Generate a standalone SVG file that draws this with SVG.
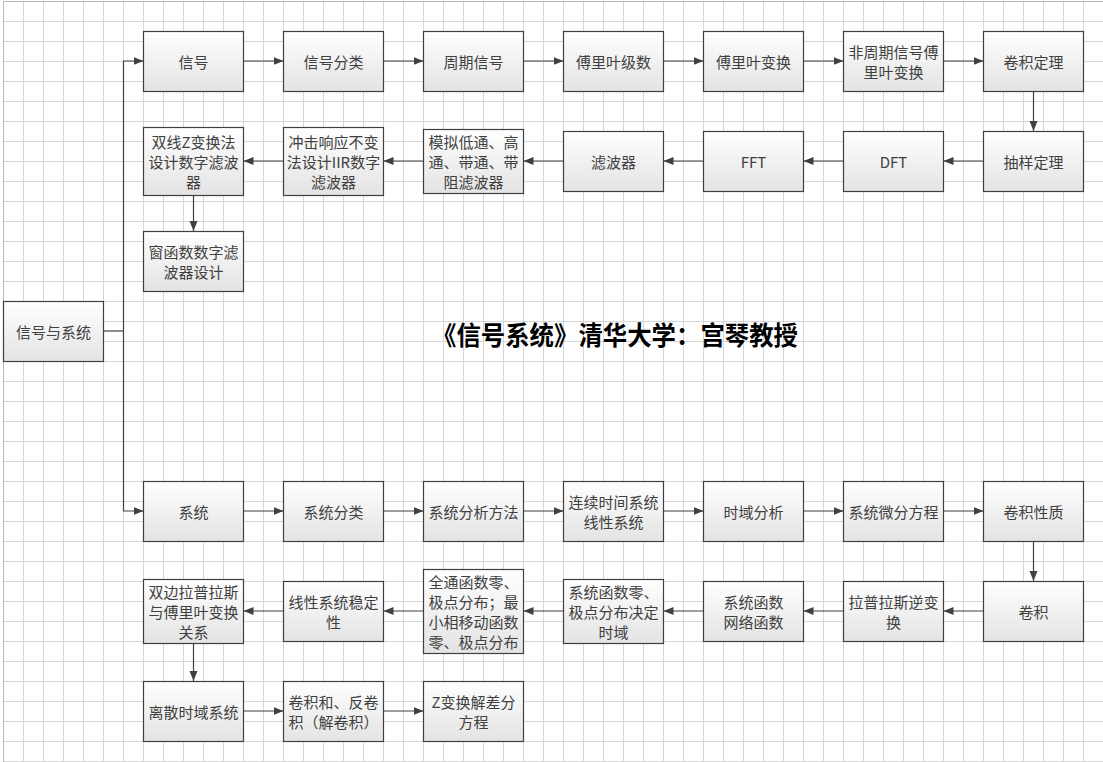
<svg xmlns="http://www.w3.org/2000/svg" width="1103" height="762" viewBox="0 0 1103 762">
<defs>
<pattern id="grid" patternUnits="userSpaceOnUse" x="3" y="1" width="20" height="20">
<path d="M0.5 0 V20 M0 0.5 H20" stroke="#d6d6d6" stroke-width="1" fill="none"/>
</pattern>
<linearGradient id="boxg" x1="0" y1="0" x2="0" y2="1">
<stop offset="0" stop-color="#ffffff"/>
<stop offset="1" stop-color="#e3e3e3"/>
</linearGradient>
<marker id="arr" markerUnits="userSpaceOnUse" markerWidth="11" markerHeight="9" refX="10" refY="4.5" orient="auto">
<path d="M0,0.5 L10,4.5 L0,8.5 z" fill="#404040"/>
</marker>
</defs>
<style>
.box{fill:url(#boxg);stroke:#404040;stroke-width:1.2}
.t{font-family:"Noto Sans CJK SC","Microsoft YaHei",sans-serif;font-size:15px;fill:#404040;text-anchor:middle;dominant-baseline:central}
.c{fill:none;stroke:#404040;stroke-width:1.2}
.ca{fill:none;stroke:#404040;stroke-width:1.2;marker-end:url(#arr)}
</style>
<rect x="0" y="0" width="1103" height="762" fill="#ffffff"/>
<rect x="3" y="1" width="1100" height="761" fill="url(#grid)"/>
<path d="M3.5 1 V762 M3 1.5 H1103" stroke="#b8b8b8" stroke-width="1" fill="none"/>

<text x="615" y="333" font-family="'Noto Sans CJK SC',sans-serif" font-size="26" font-weight="bold" fill="#000" text-anchor="middle" dominant-baseline="central" textLength="366" lengthAdjust="spacingAndGlyphs">《信号系统》清华大学：宫琴教授</text>

<g id="connectors">
<path class="c" d="M103.5 331 H123.5"/>
<path class="ca" d="M123.5 331 V61 H143.5"/>
<path class="ca" d="M123.5 331 V511 H143.5"/>
<path class="ca" d="M243.5 61 H283.5"/>
<path class="ca" d="M383.5 61 H423.5"/>
<path class="ca" d="M523.5 61 H563.5"/>
<path class="ca" d="M663.5 61 H703.5"/>
<path class="ca" d="M803.5 61 H843.5"/>
<path class="ca" d="M943.5 61 H983.5"/>
<path class="ca" d="M1033.5 91 V131"/>
<path class="ca" d="M983.5 161 H943.5"/>
<path class="ca" d="M843.5 161 H803.5"/>
<path class="ca" d="M703.5 161 H663.5"/>
<path class="ca" d="M563.5 161 H523.5"/>
<path class="ca" d="M423.5 161 H383.5"/>
<path class="ca" d="M283.5 161 H243.5"/>
<path class="ca" d="M193.5 195 V231"/>
<path class="ca" d="M243.5 511 H283.5"/>
<path class="ca" d="M383.5 511 H423.5"/>
<path class="ca" d="M523.5 511 H563.5"/>
<path class="ca" d="M663.5 511 H703.5"/>
<path class="ca" d="M803.5 511 H843.5"/>
<path class="ca" d="M943.5 511 H983.5"/>
<path class="ca" d="M1033.5 541 V581"/>
<path class="ca" d="M983.5 611 H943.5"/>
<path class="ca" d="M843.5 611 H803.5"/>
<path class="ca" d="M703.5 611 H663.5"/>
<path class="ca" d="M563.5 611 H523.5"/>
<path class="ca" d="M423.5 611 H383.5"/>
<path class="ca" d="M283.5 611 H243.5"/>
<path class="ca" d="M193.5 643 V681"/>
<path class="ca" d="M243.5 711 H283.5"/>
<path class="ca" d="M383.5 711 H423.5"/>
</g>

<g id="root"><rect class="box" x="3.5" y="301.5" width="100" height="60"/><text class="t" x="53.5" y="331">信号与系统</text></g>

<g id="n1"><rect class="box" x="143.5" y="31.5" width="100" height="60"/><text class="t" x="193.5" y="61">信号</text></g>
<g id="n2"><rect class="box" x="283.5" y="31.5" width="100" height="60"/><text class="t" x="333.5" y="61">信号分类</text></g>
<g id="n3"><rect class="box" x="423.5" y="31.5" width="100" height="60"/><text class="t" x="473.5" y="61">周期信号</text></g>
<g id="n4"><rect class="box" x="563.5" y="31.5" width="100" height="60"/><text class="t" x="613.5" y="61">傅里叶级数</text></g>
<g id="n5"><rect class="box" x="703.5" y="31.5" width="100" height="60"/><text class="t" x="753.5" y="61">傅里叶变换</text></g>
<g id="n6"><rect class="box" x="843.5" y="31.5" width="100" height="60"/><text class="t" x="893.5" y="51">非周期信号傅</text><text class="t" x="893.5" y="71">里叶变换</text></g>
<g id="n7"><rect class="box" x="983.5" y="31.5" width="100" height="60"/><text class="t" x="1033.5" y="61">卷积定理</text></g>

<g id="n8"><rect class="box" x="983.5" y="131.5" width="100" height="60"/><text class="t" x="1033.5" y="161">抽样定理</text></g>
<g id="n9"><rect class="box" x="843.5" y="131.5" width="100" height="60"/><text class="t" x="893.5" y="161">DFT</text></g>
<g id="n10"><rect class="box" x="703.5" y="131.5" width="100" height="60"/><text class="t" x="753.5" y="161">FFT</text></g>
<g id="n11"><rect class="box" x="563.5" y="131.5" width="100" height="60"/><text class="t" x="613.5" y="161">滤波器</text></g>
<g id="n12"><rect class="box" x="423.5" y="129.5" width="100" height="64"/><text class="t" x="473.5" y="141">模拟低通、高</text><text class="t" x="473.5" y="161">通、带通、带</text><text class="t" x="473.5" y="181">阻滤波器</text></g>
<g id="n13"><rect class="box" x="283.5" y="127.5" width="100" height="68"/><text class="t" x="333.5" y="141">冲击响应不变</text><text class="t" x="333.5" y="161">法设计IIR数字</text><text class="t" x="333.5" y="181">滤波器</text></g>
<g id="n14"><rect class="box" x="143.5" y="127.5" width="100" height="68"/><text class="t" x="193.5" y="141">双线Z变换法</text><text class="t" x="193.5" y="161">设计数字滤波</text><text class="t" x="193.5" y="181">器</text></g>
<g id="n15"><rect class="box" x="143.5" y="231.5" width="100" height="60"/><text class="t" x="193.5" y="251">窗函数数字滤</text><text class="t" x="193.5" y="271">波器设计</text></g>

<g id="s1"><rect class="box" x="143.5" y="481.5" width="100" height="60"/><text class="t" x="193.5" y="511">系统</text></g>
<g id="s2"><rect class="box" x="283.5" y="481.5" width="100" height="60"/><text class="t" x="333.5" y="511">系统分类</text></g>
<g id="s3"><rect class="box" x="423.5" y="481.5" width="100" height="60"/><text class="t" x="473.5" y="511">系统分析方法</text></g>
<g id="s4"><rect class="box" x="563.5" y="481.5" width="100" height="60"/><text class="t" x="613.5" y="501">连续时间系统</text><text class="t" x="613.5" y="521">线性系统</text></g>
<g id="s5"><rect class="box" x="703.5" y="481.5" width="100" height="60"/><text class="t" x="753.5" y="511">时域分析</text></g>
<g id="s6"><rect class="box" x="843.5" y="481.5" width="100" height="60"/><text class="t" x="893.5" y="511">系统微分方程</text></g>
<g id="s7"><rect class="box" x="983.5" y="481.5" width="100" height="60"/><text class="t" x="1033.5" y="511">卷积性质</text></g>

<g id="s8"><rect class="box" x="983.5" y="581.5" width="100" height="60"/><text class="t" x="1033.5" y="611">卷积</text></g>
<g id="s9"><rect class="box" x="843.5" y="581.5" width="100" height="60"/><text class="t" x="893.5" y="601">拉普拉斯逆变</text><text class="t" x="893.5" y="621">换</text></g>
<g id="s10"><rect class="box" x="703.5" y="581.5" width="100" height="60"/><text class="t" x="753.5" y="601">系统函数</text><text class="t" x="753.5" y="621">网络函数</text></g>
<g id="s11"><rect class="box" x="563.5" y="579.5" width="100" height="64"/><text class="t" x="613.5" y="591">系统函数零、</text><text class="t" x="613.5" y="611">极点分布决定</text><text class="t" x="613.5" y="631">时域</text></g>
<g id="s12"><rect class="box" x="423.5" y="569.5" width="100" height="84"/><text class="t" x="473.5" y="581">全通函数零、</text><text class="t" x="473.5" y="601">极点分布；最</text><text class="t" x="473.5" y="621">小相移动函数</text><text class="t" x="473.5" y="641">零、极点分布</text></g>
<g id="s13"><rect class="box" x="283.5" y="581.5" width="100" height="60"/><text class="t" x="333.5" y="601">线性系统稳定</text><text class="t" x="333.5" y="621">性</text></g>
<g id="s14"><rect class="box" x="143.5" y="579.5" width="100" height="64"/><text class="t" x="193.5" y="591">双边拉普拉斯</text><text class="t" x="193.5" y="611">与傅里叶变换</text><text class="t" x="193.5" y="631">关系</text></g>

<g id="s15"><rect class="box" x="143.5" y="681.5" width="100" height="60"/><text class="t" x="193.5" y="711">离散时域系统</text></g>
<g id="s16"><rect class="box" x="283.5" y="681.5" width="100" height="60"/><text class="t" x="333.5" y="701">卷积和、反卷</text><text class="t" x="333.5" y="721">积（解卷积）</text></g>
<g id="s17"><rect class="box" x="423.5" y="681.5" width="100" height="60"/><text class="t" x="473.5" y="701">Z变换解差分</text><text class="t" x="473.5" y="721">方程</text></g>
</svg>
